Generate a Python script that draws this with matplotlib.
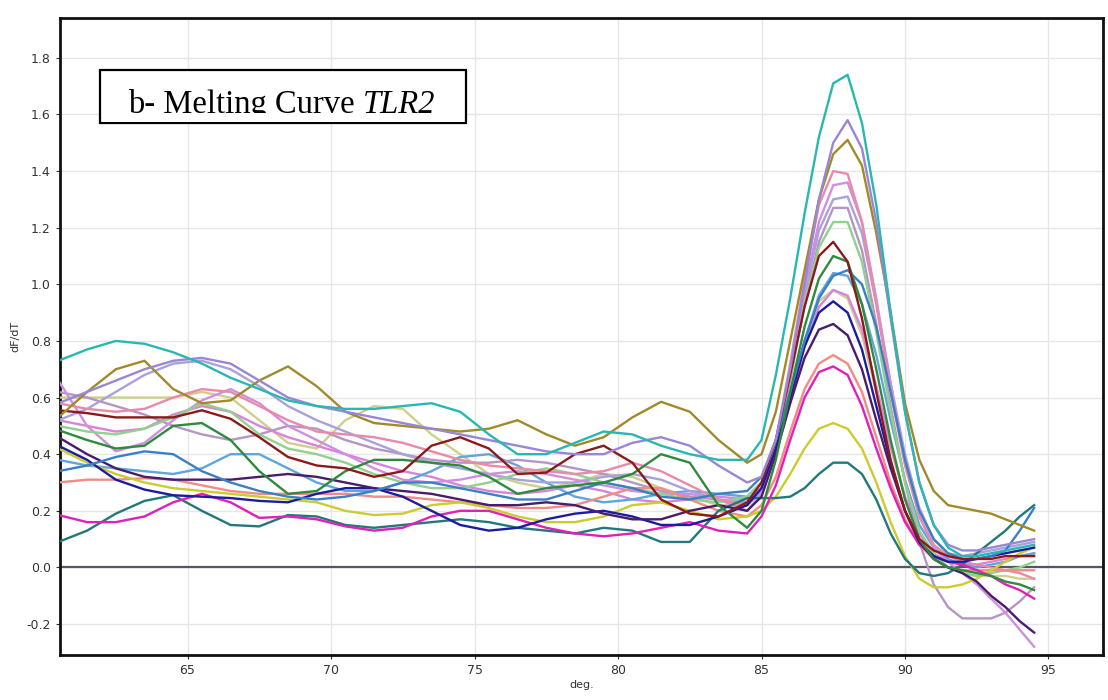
import matplotlib
matplotlib.use("Agg")
import matplotlib.pyplot as plt
from matplotlib.patches import Rectangle
import numpy as np

# Temperature grid (deg C): 1-degree steps on the plateau, 0.5-degree steps across the melt peak
temp = [60.5, 61.5, 62.5, 63.5, 64.5, 65.5, 66.5, 67.5, 68.5, 69.5, 70.5, 71.5,
        72.5, 73.5, 74.5, 75.5, 76.5, 77.5, 78.5, 79.5, 80.5, 81.5, 82.5, 83.5, 84.5,
        85.0, 85.5, 86.0, 86.5, 87.0, 87.5, 88.0, 88.5, 89.0, 89.5, 90.0, 90.5,
        91.0, 91.5, 92.0, 92.5, 93.0, 93.5, 94.0, 94.5]

# -dF/dT for each sample well
well_turquoise = [0.73, 0.77, 0.80, 0.79, 0.76, 0.72, 0.67, 0.63, 0.59, 0.57, 0.56, 0.56,
                  0.57, 0.58, 0.55, 0.47, 0.40, 0.40, 0.44, 0.48, 0.47, 0.43, 0.40, 0.38, 0.38,
                  0.45, 0.68, 0.95, 1.25, 1.52, 1.71, 1.74, 1.57, 1.28, 0.90, 0.55, 0.30,
                  0.15, 0.07, 0.04, 0.04, 0.05, 0.06, 0.07, 0.08]
well_purple = [0.58, 0.62, 0.66, 0.70, 0.73, 0.74, 0.72, 0.66, 0.60, 0.57, 0.55, 0.53,
               0.51, 0.49, 0.47, 0.45, 0.43, 0.41, 0.40, 0.40, 0.44, 0.46, 0.43, 0.36, 0.30,
               0.32, 0.45, 0.70, 1.00, 1.30, 1.50, 1.58, 1.48, 1.22, 0.88, 0.55, 0.30,
               0.15, 0.08, 0.06, 0.06, 0.07, 0.08, 0.09, 0.10]
well_olive = [0.53, 0.62, 0.70, 0.73, 0.63, 0.58, 0.59, 0.66, 0.71, 0.64, 0.55, 0.51,
              0.50, 0.49, 0.48, 0.49, 0.52, 0.47, 0.43, 0.46, 0.53, 0.585, 0.55, 0.45, 0.37,
              0.40, 0.55, 0.80, 1.05, 1.30, 1.46, 1.51, 1.42, 1.18, 0.90, 0.58, 0.38,
              0.27, 0.22, 0.21, 0.20, 0.19, 0.17, 0.15, 0.13]
well_pink = [0.58, 0.56, 0.55, 0.56, 0.60, 0.63, 0.62, 0.57, 0.52, 0.48, 0.47, 0.46,
             0.44, 0.41, 0.38, 0.36, 0.35, 0.34, 0.33, 0.34, 0.37, 0.34, 0.29, 0.24, 0.22,
             0.28, 0.45, 0.72, 1.02, 1.28, 1.40, 1.39, 1.22, 0.93, 0.62, 0.36, 0.18,
             0.08, 0.04, 0.02, 0.01, 0.00, -0.01, -0.02, -0.04]
well_violet = [0.66, 0.50, 0.41, 0.44, 0.52, 0.59, 0.63, 0.58, 0.50, 0.45, 0.40, 0.35,
               0.31, 0.30, 0.31, 0.33, 0.34, 0.33, 0.31, 0.29, 0.27, 0.26, 0.26, 0.24, 0.20,
               0.26, 0.42, 0.68, 0.98, 1.22, 1.35, 1.36, 1.22, 0.95, 0.65, 0.38, 0.18,
               0.07, 0.02, -0.02, -0.06, -0.11, -0.16, -0.22, -0.28]
well_periwinkle = [0.52, 0.56, 0.62, 0.68, 0.72, 0.73, 0.70, 0.64, 0.57, 0.52, 0.48, 0.44,
                   0.40, 0.37, 0.35, 0.33, 0.31, 0.30, 0.30, 0.32, 0.33, 0.31, 0.27, 0.24, 0.23,
                   0.28, 0.43, 0.68, 0.96, 1.19, 1.30, 1.31, 1.18, 0.93, 0.65, 0.40, 0.21,
                   0.10, 0.05, 0.04, 0.05, 0.06, 0.07, 0.08, 0.09]
well_mauve = [0.62, 0.60, 0.57, 0.54, 0.50, 0.47, 0.45, 0.47, 0.50, 0.49, 0.45, 0.42,
              0.40, 0.38, 0.37, 0.37, 0.38, 0.37, 0.35, 0.33, 0.30, 0.27, 0.25, 0.24, 0.22,
              0.27, 0.42, 0.66, 0.93, 1.15, 1.27, 1.27, 1.12, 0.86, 0.57, 0.30, 0.09,
              -0.06, -0.14, -0.18, -0.18, -0.18, -0.16, -0.12, -0.07]
well_lightgreen = [0.50, 0.48, 0.47, 0.49, 0.53, 0.58, 0.55, 0.47, 0.42, 0.40, 0.37, 0.33,
                   0.30, 0.28, 0.28, 0.30, 0.33, 0.35, 0.33, 0.30, 0.28, 0.26, 0.24, 0.23, 0.25,
                   0.30, 0.45, 0.68, 0.93, 1.13, 1.22, 1.22, 1.08, 0.83, 0.55, 0.30, 0.13,
                   0.05, 0.00, -0.02, -0.03, -0.02, -0.01, 0.00, 0.02]
well_darkred = [0.555, 0.545, 0.53, 0.53, 0.53, 0.555, 0.525, 0.46, 0.39, 0.36, 0.35, 0.32,
                0.34, 0.43, 0.46, 0.42, 0.33, 0.335, 0.40, 0.43, 0.37, 0.24, 0.19, 0.18, 0.23,
                0.30, 0.45, 0.68, 0.92, 1.10, 1.15, 1.08, 0.88, 0.62, 0.38, 0.20, 0.10,
                0.06, 0.04, 0.03, 0.03, 0.03, 0.04, 0.04, 0.04]
well_green = [0.485, 0.45, 0.42, 0.43, 0.50, 0.51, 0.45, 0.34, 0.26, 0.27, 0.34, 0.38,
              0.38, 0.37, 0.36, 0.32, 0.26, 0.28, 0.29, 0.30, 0.33, 0.40, 0.37, 0.22, 0.14,
              0.20, 0.38, 0.62, 0.85, 1.02, 1.10, 1.08, 0.93, 0.70, 0.45, 0.24, 0.10,
              0.03, 0.00, -0.01, -0.02, -0.03, -0.05, -0.06, -0.08]
well_steelblue = [0.34, 0.36, 0.39, 0.41, 0.40, 0.34, 0.30, 0.27, 0.25, 0.24, 0.25, 0.27,
                  0.30, 0.30, 0.28, 0.26, 0.24, 0.24, 0.27, 0.30, 0.28, 0.25, 0.24, 0.26, 0.27,
                  0.32, 0.45, 0.62, 0.80, 0.95, 1.03, 1.05, 1.00, 0.85, 0.62, 0.38, 0.20,
                  0.10, 0.05, 0.03, 0.03, 0.04, 0.06, 0.13, 0.21]
well_lightblue = [0.38, 0.36, 0.35, 0.34, 0.33, 0.35, 0.40, 0.40, 0.35, 0.30, 0.27, 0.27,
                  0.30, 0.34, 0.39, 0.40, 0.36, 0.30, 0.25, 0.23, 0.24, 0.26, 0.27, 0.26, 0.25,
                  0.30, 0.42, 0.60, 0.80, 0.96, 1.04, 1.03, 0.93, 0.75, 0.52, 0.31, 0.15,
                  0.07, 0.03, 0.01, 0.00, 0.01, 0.02, 0.04, 0.05]
well_khaki = [0.60, 0.60, 0.60, 0.60, 0.60, 0.62, 0.60, 0.52, 0.44, 0.42, 0.52, 0.57,
              0.56, 0.47, 0.40, 0.33, 0.30, 0.28, 0.30, 0.33, 0.32, 0.28, 0.25, 0.22, 0.22,
              0.27, 0.40, 0.60, 0.80, 0.94, 0.98, 0.95, 0.82, 0.62, 0.42, 0.25, 0.12,
              0.04, 0.00, -0.02, -0.03, -0.03, -0.03, -0.04, -0.04]
well_orchid = [0.52, 0.50, 0.48, 0.49, 0.54, 0.57, 0.55, 0.50, 0.46, 0.43, 0.40, 0.37,
               0.34, 0.32, 0.29, 0.27, 0.26, 0.27, 0.29, 0.27, 0.24, 0.23, 0.24, 0.25, 0.24,
               0.28, 0.40, 0.58, 0.78, 0.92, 0.98, 0.96, 0.84, 0.64, 0.43, 0.25, 0.12,
               0.05, 0.02, 0.01, 0.01, 0.02, 0.03, 0.04, 0.05]
well_navy = [0.43, 0.38, 0.31, 0.275, 0.255, 0.25, 0.245, 0.235, 0.23, 0.26, 0.28, 0.28,
             0.25, 0.20, 0.15, 0.13, 0.14, 0.17, 0.19, 0.20, 0.18, 0.15, 0.15, 0.18, 0.22,
             0.28, 0.42, 0.60, 0.78, 0.90, 0.94, 0.90, 0.77, 0.57, 0.37, 0.20, 0.09,
             0.04, 0.02, 0.02, 0.03, 0.04, 0.05, 0.06, 0.07]
well_darkpurple = [0.46, 0.40, 0.35, 0.32, 0.31, 0.31, 0.31, 0.32, 0.33, 0.32, 0.30, 0.28,
                   0.27, 0.26, 0.24, 0.22, 0.22, 0.23, 0.22, 0.19, 0.17, 0.17, 0.20, 0.22, 0.20,
                   0.25, 0.40, 0.58, 0.74, 0.84, 0.86, 0.82, 0.70, 0.52, 0.35, 0.20, 0.09,
                   0.03, 0.00, -0.02, -0.05, -0.10, -0.14, -0.19, -0.23]
well_salmon = [0.30, 0.31, 0.31, 0.315, 0.31, 0.29, 0.27, 0.26, 0.26, 0.26, 0.26, 0.25,
               0.25, 0.24, 0.23, 0.22, 0.21, 0.21, 0.22, 0.25, 0.28, 0.28, 0.24, 0.20, 0.18,
               0.22, 0.32, 0.48, 0.63, 0.72, 0.75, 0.72, 0.62, 0.46, 0.30, 0.17, 0.08,
               0.03, 0.00, -0.01, -0.01, -0.01, -0.01, -0.01, -0.01]
well_magenta = [0.185, 0.16, 0.16, 0.18, 0.23, 0.26, 0.23, 0.175, 0.18, 0.17, 0.145, 0.13,
                0.14, 0.18, 0.20, 0.20, 0.17, 0.14, 0.12, 0.11, 0.12, 0.14, 0.16, 0.13, 0.12,
                0.18, 0.29, 0.45, 0.60, 0.69, 0.71, 0.68, 0.57, 0.42, 0.28, 0.16, 0.08,
                0.04, 0.02, 0.01, -0.01, -0.03, -0.06, -0.08, -0.11]
well_yellow = [0.42, 0.37, 0.33, 0.30, 0.28, 0.27, 0.26, 0.25, 0.24, 0.23, 0.20, 0.185,
               0.19, 0.22, 0.23, 0.21, 0.18, 0.16, 0.16, 0.18, 0.22, 0.23, 0.20, 0.17, 0.18,
               0.20, 0.25, 0.33, 0.42, 0.49, 0.51, 0.49, 0.42, 0.30, 0.16, 0.04, -0.04,
               -0.07, -0.07, -0.06, -0.04, -0.01, 0.02, 0.05, 0.07]
well_darkteal = [0.09, 0.13, 0.19, 0.235, 0.255, 0.20, 0.15, 0.145, 0.185, 0.18, 0.15, 0.14,
                 0.15, 0.16, 0.17, 0.16, 0.14, 0.13, 0.12, 0.14, 0.13, 0.09, 0.09, 0.20, 0.245,
                 0.245, 0.245, 0.25, 0.28, 0.33, 0.37, 0.37, 0.33, 0.24, 0.12, 0.03, -0.02,
                 -0.03, -0.02, 0.01, 0.05, 0.09, 0.13, 0.18, 0.22]

wells = [
    (well_khaki, "#cfcf8c"),
    (well_orchid, "#d884d8"),
    (well_lightblue, "#5fa6dc"),
    (well_mauve, "#b595c6"),
    (well_periwinkle, "#a8a2dc"),
    (well_violet, "#d08ede"),
    (well_lightgreen, "#92d08e"),
    (well_pink, "#e88aa8"),
    (well_salmon, "#f08c84"),
    (well_yellow, "#cccc30"),
    (well_darkteal, "#22787a"),
    (well_magenta, "#e020b8"),
    (well_navy, "#1c1ca0"),
    (well_darkpurple, "#4a1c6c"),
    (well_steelblue, "#3a80c4"),
    (well_green, "#2e8b3e"),
    (well_darkred, "#8b1a1a"),
    (well_olive, "#a08a2a"),
    (well_purple, "#9a86d6"),
    (well_turquoise, "#2ab7b2"),
]

x_ticks = [65, 70, 75, 80, 85, 90, 95]
y_ticks = [-0.2, 0.0, 0.2, 0.4, 0.6, 0.8, 1.0, 1.2, 1.4, 1.6, 1.8]

fig = plt.figure(figsize=(11.08, 7.00), dpi=100)
ax = fig.add_axes([0.054, 0.064, 0.9415, 0.910])

ax.set_xlim(60.55, 96.9)
ax.set_ylim(-0.31, 1.94)
ax.set_xticks(x_ticks)
ax.set_yticks(y_ticks)
ax.set_yticklabels([f"{v:.1f}" for v in y_ticks])
ax.grid(True, color="#e6e6e6", linewidth=1.0)
ax.set_axisbelow(True)

ax.axhline(0.0, color="#555566", linewidth=1.6, zorder=2)

for values, color in wells:
    ax.plot(temp, values, color=color, linewidth=1.7, zorder=3)

for side in ax.spines.values():
    side.set_linewidth(2.0)
    side.set_color("#111111")

ax.tick_params(axis="both", labelsize=9, colors="#333333", length=3, width=0.8)
ax.set_xlabel("deg.", fontsize=8, color="#333333", labelpad=2)
ax.set_ylabel("dF/dT", fontsize=8, color="#333333", labelpad=4)

# Title box
box = Rectangle((0.0384, 0.835), 0.3506, 0.083, transform=ax.transAxes,
                facecolor="white", edgecolor="black", linewidth=1.6, zorder=5)
ax.add_patch(box)
t1 = ax.text(0.065, 0.851, "b- Melting Curve ", transform=ax.transAxes,
             fontsize=23.5, family="Liberation Serif", color="black",
             va="baseline", ha="left", zorder=6)
ax.annotate("TLR2", xy=(1.0, 0.0), xycoords=t1, fontsize=23.5,
            family="Liberation Serif", style="italic", color="black",
            va="bottom", ha="left", zorder=6)
# lower strip of the box hides the glyph descenders
ax.add_patch(Rectangle((0.040, 0.837), 0.347, 0.014, transform=ax.transAxes,
                       facecolor="white", edgecolor="none", zorder=7))

fig.savefig("out.png", dpi=100)
